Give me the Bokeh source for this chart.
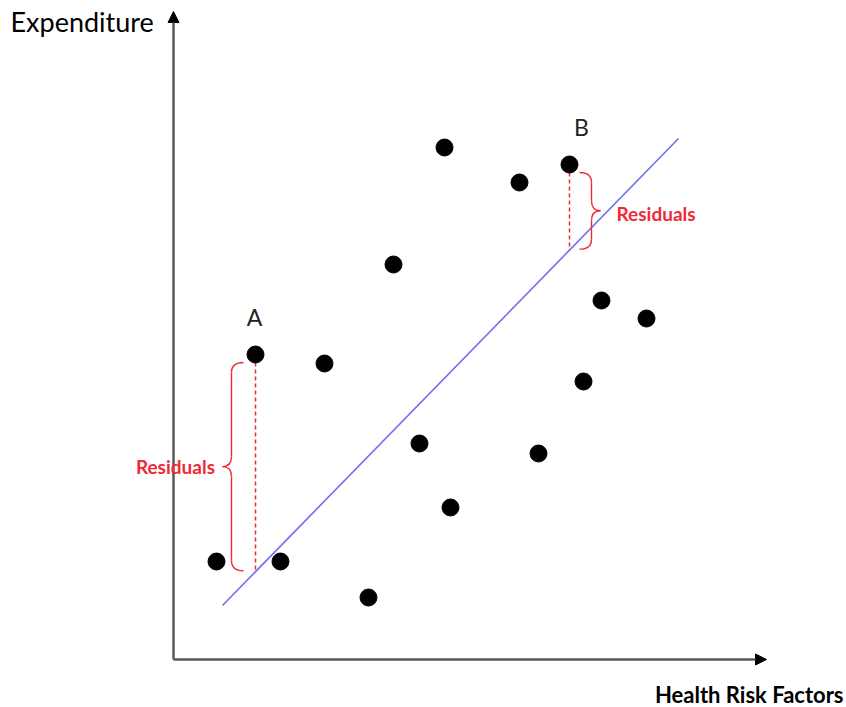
import numpy as np
from bokeh.plotting import figure
from bokeh.models import Range1d, Arrow, NormalHead, Label
from bokeh.embed import file_html
from bokeh.resources import INLINE

# ---- data (diagram units, origin at axis corner) ----
pts_x = [8.6, 16.4, 21.4, 30.2, 39.0, 44.0, 49.2, 54.2, 55.4, 69.2, 73.0, 79.2, 82.0, 85.6, 94.6]
pts_y = [19.6, 61.0, 19.6, 59.2, 12.4, 79.0, 43.2, 102.4, 30.4, 95.4, 41.2, 99.0, 55.6, 71.8, 68.2]
fit_x = [9.8, 101.0]
fit_y = [10.8, 104.2]
labels = ["A", "B"]
label_idx = [1, 11]
x_title = "Health Risk Factors"
y_title = "Expenditure"
resid_text = "Residuals"

RED = "#ee2a35"

p = figure(width=846, height=707, output_backend="svg", toolbar_location=None,
           x_range=Range1d(-34.6, 134.6), y_range=Range1d(-9.6, 131.8),
           min_border=0, outline_line_color=None)
p.axis.visible = False
p.grid.visible = False
p.background_fill_color = "white"

# axes with arrows
p.add_layout(Arrow(x_start=0, y_start=0, x_end=118.6, y_end=0, line_color="#5a5a5a", line_width=2.5,
                   end=NormalHead(size=11, fill_color="black", line_color="black")))
p.add_layout(Arrow(x_start=0, y_start=0, x_end=0, y_end=129.6, line_color="#5a5a5a", line_width=2.5,
                   end=NormalHead(size=11, fill_color="black", line_color="black")))

# regression line
p.line(fit_x, fit_y, line_color="#6f6ff0", line_width=1.6)

# residuals and braces
def brace(xb, ytop, ybot, d, hook=2.4, tip=1.8, r=2.0):
    ymid = (ytop + ybot) / 2
    xh = xb - d * hook
    xt = xb + d * tip
    q = dict(x0=[xh, xb, xt, xb], y0=[ytop, ymid + r, ymid, ybot + r],
             x1=[xb, xt, xb, xh], y1=[ytop - r, ymid, ymid - r, ybot],
             cx=[xb, xb, xb, xb], cy=[ytop, ymid, ymid, ybot])
    p.quadratic(**q, line_color=RED, line_width=1.4)
    p.segment(x0=[xb, xb], y0=[ytop - r, ymid - r], x1=[xb, xb], y1=[ymid + r, ybot + r],
              line_color=RED, line_width=1.4)
    return ymid, xt

label_dx = [-0.2, 2.4]
for k, i in enumerate(label_idx):
    px, py = pts_x[i], pts_y[i]
    fy = float(np.interp(px, fit_x, fit_y))
    p.segment(x0=[px], y0=[py - 1.6], x1=[px], y1=[fy], line_color=RED, line_width=1.5, line_dash="4 3")
    d = -1 if k == 0 else 1
    off = 4.8 if k == 0 else 4.4
    ymid, xt = brace(px + d * off, py - 1.6, fy + 0.2, d)
    if d < 0:
        p.add_layout(Label(x=xt - 1.5, y=ymid, text=resid_text, text_align="right", text_baseline="middle",
                           text_color=RED, text_font="Lato", text_font_style="bold", text_font_size="19px"))
    else:
        p.add_layout(Label(x=xt + 3.2, y=ymid - 0.6, text=resid_text, text_align="left", text_baseline="middle",
                           text_color=RED, text_font="Lato", text_font_style="bold", text_font_size="19px"))
    p.add_layout(Label(x=px + label_dx[k], y=py + 7.6, text=labels[k], text_align="center", text_baseline="middle",
                       text_color="#222222", text_font="Lato", text_font_size="23px"))

# points
p.scatter(pts_x, pts_y, size=17, fill_color="black", line_color="black")

# titles
p.add_layout(Label(x=-32.6, y=127.6, text=y_title, text_align="left", text_baseline="middle",
                   text_color="black", text_font="Lato", text_font_size="27px"))
p.add_layout(Label(x=134.0, y=-7.0, text=x_title, text_align="right", text_baseline="middle",
                   text_color="black", text_font="Lato", text_font_style="bold", text_font_size="22px"))

open("out.html", "w").write(file_html(p, INLINE))
